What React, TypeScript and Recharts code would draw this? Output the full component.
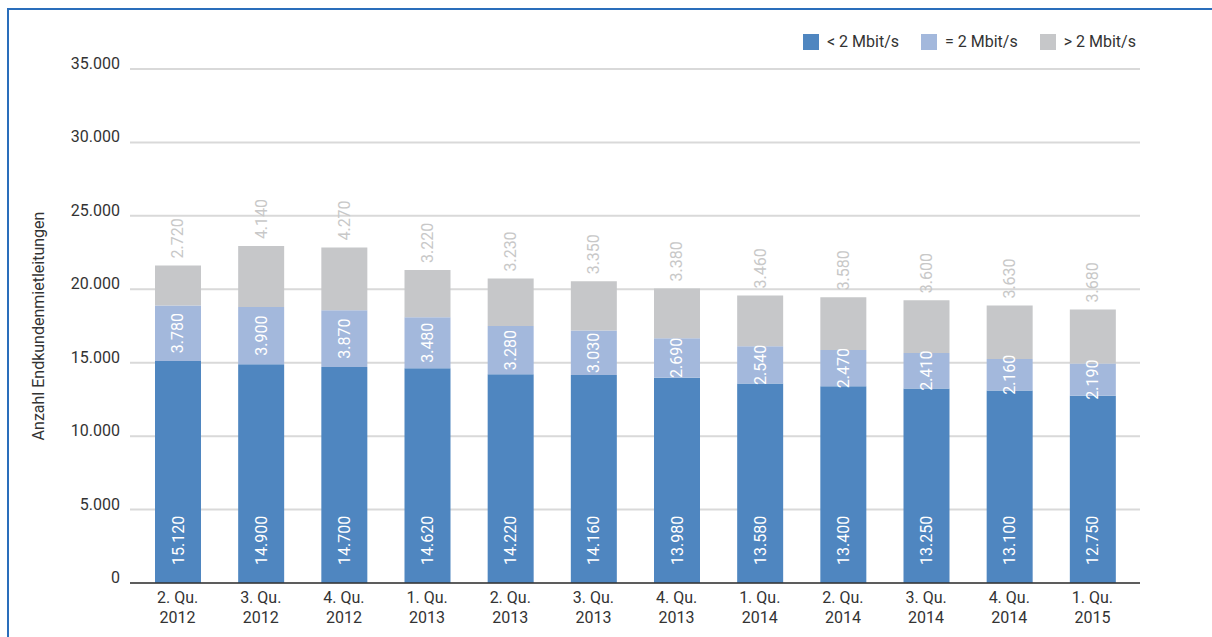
import { BarChart, Bar, XAxis, YAxis, CartesianGrid, LabelList } from 'recharts'

const quarters = ['2. Qu.|2012', '3. Qu.|2012', '4. Qu.|2012', '1. Qu.|2013', '2. Qu.|2013', '3. Qu.|2013', '4. Qu.|2013', '1. Qu.|2014', '2. Qu.|2014', '3. Qu.|2014', '4. Qu.|2014', '1. Qu.|2015']
const below2 = [15120, 14900, 14700, 14620, 14220, 14160, 13980, 13580, 13400, 13250, 13100, 12750]
const equal2 = [3780, 3900, 3870, 3480, 3280, 3030, 2690, 2540, 2470, 2410, 2160, 2190]
const above2 = [2720, 4140, 4270, 3220, 3230, 3350, 3380, 3460, 3580, 3600, 3630, 3680]
const yTicks = [0, 5000, 10000, 15000, 20000, 25000, 30000, 35000]

const FONT = '"Liberation Sans Narrow", "Roboto", sans-serif'
const COLORS = { below: '#4f86c0', equal: '#a3b8dc', above: '#c6c7c9' }

const legendItems = [
  { label: '< 2 Mbit/s', color: COLORS.below },
  { label: '= 2 Mbit/s', color: COLORS.equal },
  { label: '> 2 Mbit/s', color: COLORS.above },
]

const data = quarters.map((q, i) => ({
  name: q,
  below: below2[i],
  equal: equal2[i],
  above: above2[i],
}))

// 15120 -> "15.120"
const fmt = (v: number) => String(v).replace(/\B(?=(\d{3})+(?!\d))/g, '.')

function BottomLabel(props: any) {
  const { x, y, width, height, value } = props
  const cx = x + width / 2
  const cy = y + height - 18
  return (
    <text x={cx} y={cy} transform={`rotate(-90 ${cx} ${cy})`} textAnchor="start" dominantBaseline="central"
      fill="#fff" fontSize={16} fontFamily={FONT}>
      {fmt(value)}
    </text>
  )
}

function MiddleLabel(props: any) {
  const { x, y, width, height, value } = props
  const cx = x + width / 2
  const cy = y + height / 2
  return (
    <text x={cx} y={cy} transform={`rotate(-90 ${cx} ${cy})`} textAnchor="middle" dominantBaseline="central"
      fill="#fff" fontSize={16} fontFamily={FONT}>
      {fmt(value)}
    </text>
  )
}

function TopLabel(props: any) {
  const { x, y, width, value } = props
  const cx = x + width / 2
  const cy = y - 7
  return (
    <text x={cx} y={cy} transform={`rotate(-90 ${cx} ${cy})`} textAnchor="start" dominantBaseline="central"
      fill="#c8c8c8" fontSize={16} fontFamily={FONT}>
      {fmt(value)}
    </text>
  )
}

function QuarterTick(props: any) {
  const { x, y, payload } = props
  const [l1, l2] = String(payload.value).split('|')
  return (
    <text x={x} y={y} textAnchor="middle" fill="#333" fontSize={16} fontFamily={FONT}>
      <tspan x={x} dy={12}>{l1}</tspan>
      <tspan x={x} dy={20}>{l2}</tspan>
    </text>
  )
}

// y tick labels sit on the gridline, not centred on it
function ValueTick(props: any) {
  const { x, y, payload } = props
  return (
    <text x={x} y={y} textAnchor="end" fill="#333" fontSize={16} fontFamily={FONT}>
      {fmt(payload.value)}
    </text>
  )
}

export default function App() {
  return (
    <div style={{ position: 'absolute', left: 7, top: 8, width: 1203, height: 627, borderLeft: '2px solid #2a6ebb', borderTop: '2px solid #2a6ebb', background: '#fff' }}>
      {/* legend kept outside the chart so it doesn't shrink the plot area */}
      <div style={{ position: 'absolute', top: 22, left: 794, display: 'flex', alignItems: 'center', fontFamily: FONT, fontSize: 16, color: '#333' }}>
        {legendItems.map((it) => (
          <div key={it.label} style={{ display: 'flex', alignItems: 'center', marginRight: 22 }}>
            <span style={{ width: 16, height: 16, background: it.color, display: 'inline-block', marginRight: 8 }} />
            <span>{it.label}</span>
          </div>
        ))}
      </div>
      <BarChart width={1200} height={625} data={data} margin={{ top: 59, right: 69, bottom: 0, left: 21 }}>
        <CartesianGrid vertical={false} stroke="#d9d9d9" strokeWidth={2} />
        <XAxis dataKey="name" tick={<QuarterTick />} tickLine={false} axisLine={{ stroke: '#333', strokeWidth: 1.5 }}
          height={52} padding={{ left: 6, right: 6 }} interval={0} />
        <YAxis ticks={yTicks} domain={[0, 35000]} axisLine={false} tickLine={false}
          tickSize={0} tickMargin={10} width={100}
          tick={<ValueTick />}
          label={{ value: 'Anzahl Endkundenmietleitungen', angle: -90, position: 'insideLeft', offset: 8,
            style: { textAnchor: 'middle', fill: '#333', fontSize: 16, fontFamily: FONT } }} />
        <Bar dataKey="below" stackId="a" fill={COLORS.below} barSize={46} isAnimationActive={false}>
          <LabelList dataKey="below" content={<BottomLabel />} />
        </Bar>
        <Bar dataKey="equal" stackId="a" fill={COLORS.equal} barSize={46} isAnimationActive={false}>
          <LabelList dataKey="equal" content={<MiddleLabel />} />
        </Bar>
        <Bar dataKey="above" stackId="a" fill={COLORS.above} barSize={46} isAnimationActive={false}>
          <LabelList dataKey="above" content={<TopLabel />} />
        </Bar>
      </BarChart>
    </div>
  )
}
